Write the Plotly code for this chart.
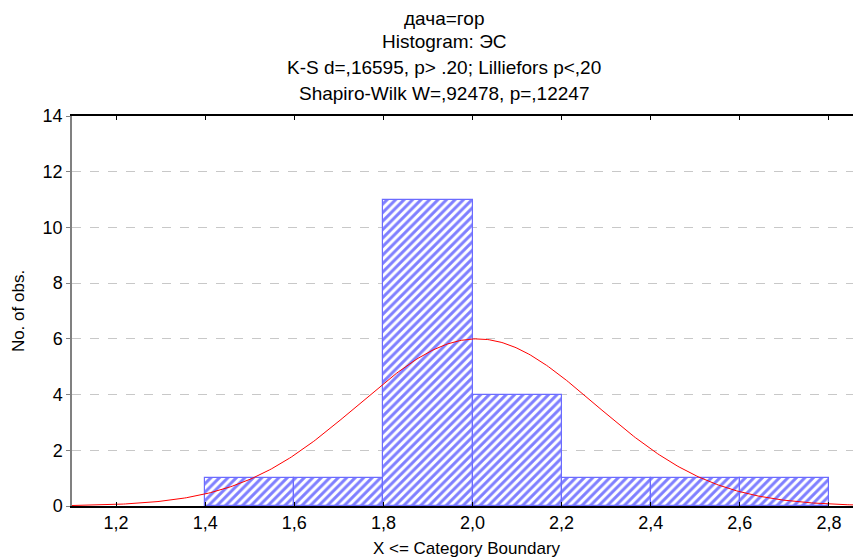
import numpy as np
import plotly.graph_objects as go

# --- data ---
bin_lower = [1.4, 1.6, 1.8, 2.0, 2.2, 2.4, 2.6]
bin_width = 0.2
counts = [1, 1, 11, 4, 1, 1, 1]

# fitted normal curve parameters
fit_mean = 2.01
fit_sd = 0.266

x_tickvals = [1.2, 1.4, 1.6, 1.8, 2.0, 2.2, 2.4, 2.6, 2.8]
x_ticktext = ["1,2", "1,4", "1,6", "1,8", "2,0", "2,2", "2,4", "2,6", "2,8"]
y_tickvals = [0, 2, 4, 6, 8, 10, 12, 14]

title_lines = ["дача=гор", "Histogram: ЭС",
               "K-S d=,16595, p> .20; Lilliefors p<,20",
               "Shapiro-Wilk W=,92478, p=,12247"]

x_range = [1.101, 2.872]
y_range = [0, 14]

n_total = sum(counts)
xs = np.linspace(x_range[0], x_range[1], 400)
ys = n_total * bin_width * np.exp(-0.5 * ((xs - fit_mean) / fit_sd) ** 2) / (fit_sd * np.sqrt(2 * np.pi))

FONT = "Liberation Sans, Arial, sans-serif"

# page offset (body margin) compensation: page is shifted by 8px
OFF = 8
PLOT_L, PLOT_T, PLOT_B, PLOT_R = 72, 116, 506, 861
W, H = 861, 560

fig = go.Figure()
fig.add_trace(go.Bar(
    x=bin_lower, y=counts, width=bin_width, offset=0,
    marker=dict(color="white",
                line=dict(color="#6b6bff", width=1.2),
                pattern=dict(shape="/", fgcolor="#0000ff", bgcolor="white",
                             size=6, solidity=0.5)),
    hoverinfo="skip", showlegend=False))
fig.add_trace(go.Scatter(x=xs, y=ys, mode="lines",
                         line=dict(color="#ff0000", width=1),
                         hoverinfo="skip", showlegend=False))

fig.update_layout(
    width=W, height=H,
    margin=dict(l=PLOT_L - OFF, r=W + OFF - PLOT_R, t=PLOT_T - OFF, b=H + OFF - PLOT_B),
    paper_bgcolor="white", plot_bgcolor="white",
    font=dict(family=FONT, color="#000000"),
    bargap=0,
    xaxis=dict(range=x_range, tickvals=x_tickvals, ticktext=x_ticktext,
               ticks="inside", ticklen=4, tickcolor="#000000",
               showline=True, linecolor="#000000", linewidth=1.5,
               mirror="ticks", showgrid=False, zeroline=False,
               tickfont=dict(size=18, family=FONT),
               title=dict(text="X <= Category Boundary", standoff=10,
                          font=dict(size=17, family=FONT))),
    yaxis=dict(range=y_range, tickvals=y_tickvals,
               ticks="outside", ticklen=4, tickcolor="#808080",
               showline=True, linecolor="#808080", linewidth=1.5,
               showgrid=True, gridcolor="#c8c8c8", griddash="dash", gridwidth=1,
               zeroline=False,
               tickfont=dict(size=18, family=FONT),
               title=dict(text="No. of obs.", standoff=14,
                          font=dict(size=17, family=FONT))),
)

ys_title = [18, 41, 67, 93]
plot_h = PLOT_B - PLOT_T
plot_w = PLOT_R - PLOT_L
for txt, yy in zip(title_lines, ys_title):
    fig.add_annotation(text=txt, xref="paper", yref="paper",
                       x=(444 - PLOT_L) / plot_w, xanchor="center",
                       y=1 + (PLOT_T - yy) / plot_h, yanchor="middle",
                       showarrow=False, font=dict(size=19, family=FONT))

fig.write_html("out.html", config={"displayModeBar": False})
